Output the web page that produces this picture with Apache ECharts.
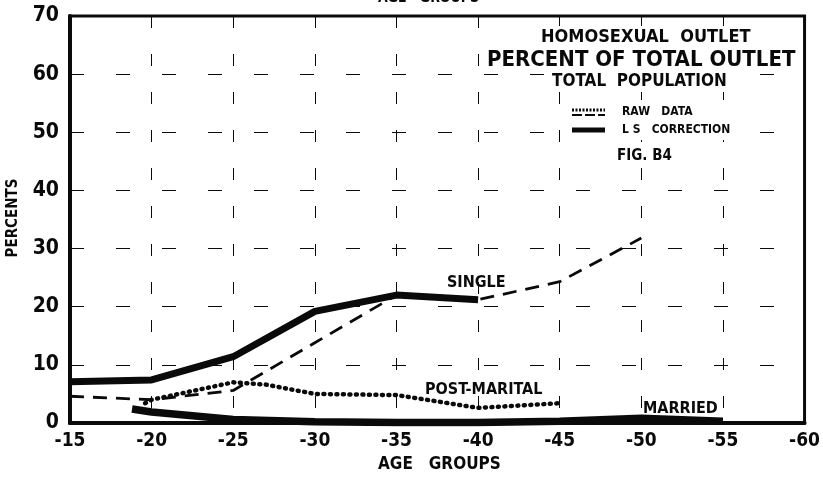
<!DOCTYPE html>
<html>
<head>
<meta charset="utf-8">
<title>Homosexual outlet - percent of total outlet</title>
<script src="https://cdn.jsdelivr.net/npm/echarts@6/dist/echarts.min.js"></script>
<style>
  html, body { margin: 0; padding: 0; background: #fff; }
  #chart { width: 823px; height: 477px; }
</style>
</head>
<body>
<div id="chart"></div>
<script>
// Age groups are read as the upper age of each group (-15, -20, ...)
const ageTicks = [15, 20, 25, 30, 35, 40, 45, 50, 55, 60];

const singleCorrected = [[15, 7.1], [20, 7.4], [25, 11.4], [30, 19.2], [35, 22.0], [40, 21.2]];
const singleRaw = [[15, 4.6], [20, 4.0], [25, 5.6], [30, 13.8], [35, 22.0], [40, 21.2], [45, 24.3], [50, 31.8]];
const postMaritalRaw = [[19.6, 3.4], [20, 4.0], [25, 7.0], [27, 6.6], [30, 5.0], [35, 4.8], [40, 2.6], [45, 3.4]];
const marriedCorrected = [[18.8, 2.4], [20, 1.9], [25, 0.6], [30, 0.2], [35, 0.1], [40, 0.1], [45, 0.3], [50, 0.8], [55, 0.3]];

const FONT = '"DejaVu Sans Condensed", "DejaVu Sans", sans-serif';
const INK = '#0a0a0a';

const chart = echarts.init(document.getElementById('chart'));

function text(x, y, str, size) {
  return {
    type: 'text',
    left: x,
    top: y,
    z: 101,
    style: {
      text: str,
      font: `bold ${size}px ${FONT}`,
      fill: INK,
    },
  };
}

function whiteBox(x, y, w, h) {
  return {
    type: 'rect',
    z: 100,
    shape: { x, y, width: w, height: h },
    style: { fill: '#fff' },
  };
}

chart.setOption({
  backgroundColor: '#fff',
  animation: false,
  grid: {
    left: 70, right: 16, top: 16, bottom: 54,
    show: true,
    borderColor: INK,
    borderWidth: 3,
  },
  xAxis: {
    type: 'value',
    min: ageTicks[0],
    max: ageTicks[ageTicks.length - 1],
    interval: 5,
    axisLine: { lineStyle: { color: INK, width: 4 } },
    axisTick: { show: false },
    axisLabel: {
      color: INK,
      fontFamily: FONT,
      fontWeight: 'bold',
      fontSize: 19,
      margin: 9,
      formatter: v => '-' + v,
    },
    splitLine: { show: true, lineStyle: { color: INK, width: 1, type: [12, 26] } },
  },
  yAxis: {
    type: 'value',
    min: 0,
    max: 70,
    interval: 10,
    axisLine: { show: true, lineStyle: { color: INK, width: 4 } },
    axisTick: { show: false },
    axisLabel: {
      color: INK,
      fontFamily: FONT,
      fontWeight: 'bold',
      fontSize: 21,
      margin: 11,
    },
    splitLine: { show: true, lineStyle: { color: INK, width: 1, type: [14, 32] } },
  },
  series: [
    {
      name: 'Single (raw)',
      type: 'line',
      data: singleRaw,
      symbol: 'none',
      lineStyle: { color: INK, width: 2.8, type: [14, 9] },
    },
    {
      name: 'Single (L S correction)',
      type: 'line',
      data: singleCorrected,
      symbol: 'none',
      lineStyle: { color: INK, width: 7 },
    },
    {
      name: 'Post-marital (raw)',
      type: 'line',
      data: postMaritalRaw,
      symbol: 'none',
      lineStyle: { color: INK, width: 4.5, type: [1, 5.5], cap: 'round' },
    },
    {
      name: 'Married (L S correction)',
      type: 'line',
      data: marriedCorrected,
      symbol: 'none',
      lineStyle: { color: INK, width: 7.5 },
    },
  ],
  graphic: [
    whiteBox(484, 26, 316, 48),
    whiteBox(545, 74, 200, 16),
    text(541, 28, 'HOMOSEXUAL  OUTLET', 18),
    text(487, 49, 'PERCENT OF TOTAL OUTLET', 22),
    text(552, 73, 'TOTAL  POPULATION', 17),
    whiteBox(566, 100, 186, 40),
    {
      type: 'line',
      z: 101,
      shape: { x1: 572, y1: 110, x2: 605, y2: 110 },
      style: { stroke: INK, lineWidth: 3, lineDash: [2, 1.5] },
    },
    {
      type: 'line',
      z: 101,
      shape: { x1: 572, y1: 115, x2: 605, y2: 115 },
      style: { stroke: INK, lineWidth: 2, lineDash: [10, 3] },
    },
    {
      type: 'line',
      z: 101,
      shape: { x1: 572, y1: 130, x2: 605, y2: 130 },
      style: { stroke: INK, lineWidth: 5 },
    },
    text(622, 106, 'RAW   DATA', 12),
    text(622, 124, 'L S   CORRECTION', 12),
    whiteBox(612, 146, 70, 20),
    text(617, 149, 'FIG. B4', 15),
    text(447, 275, 'SINGLE', 16),
    text(425, 382, 'POST-MARITAL', 16),
    text(643, 401, 'MARRIED', 16),
    text(378, 456, 'AGE   GROUPS', 17),
    text(378, -9, 'AGE   GROUPS', 14),
    {
      type: 'text',
      rotation: Math.PI / 2,
      x: 13,
      y: 218,
      z: 101,
      style: {
        text: 'PERCENTS',
        font: `bold 15px ${FONT}`,
        fill: INK,
        align: 'center',
        verticalAlign: 'middle',
      },
    },
  ],
});
</script>
</body>
</html>
